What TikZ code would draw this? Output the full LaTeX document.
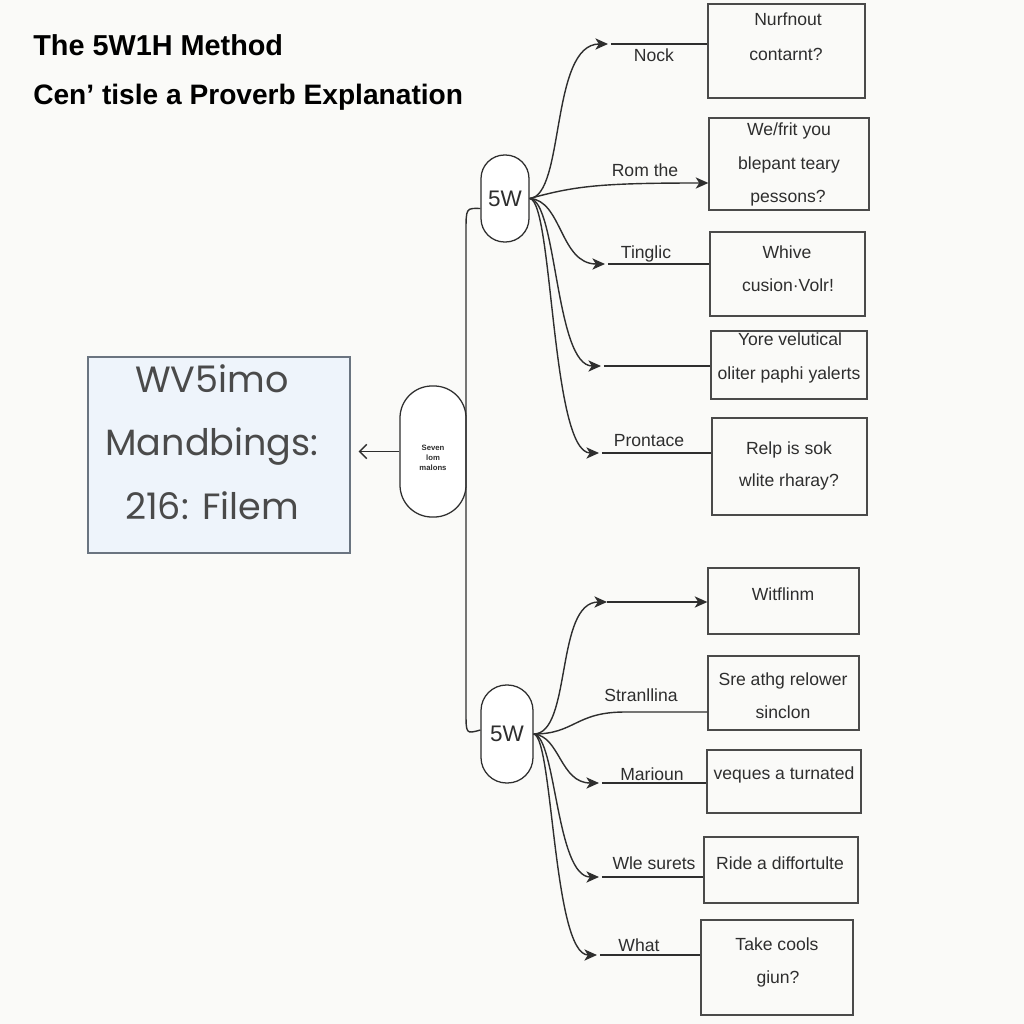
\documentclass[tikz,border=0pt]{standalone}
\usepackage{fontspec}
\setmainfont{Liberation Sans}
\newfontfamily\boxfont{Poppins}
\usetikzlibrary{arrows.meta}
\definecolor{bg}{HTML}{FAFAF8}
\definecolor{ink}{HTML}{2E2E2E}
\definecolor{edge}{HTML}{4A4A4A}
\definecolor{mainfill}{HTML}{EEF4FB}
\definecolor{mainedge}{HTML}{6A7480}
\definecolor{maintext}{HTML}{4A4A4A}
\begin{document}
\begin{tikzpicture}[x=0.025cm,y=-0.025cm,
  ansbox/.style={draw=edge, line width=0.9pt, rectangle, inner sep=0pt},
  txt/.style={text=ink, font=\fontsize{12.5}{15}\selectfont, inner sep=0pt, text height=9pt, text depth=2.5pt},
  wpill/.style={draw=ink, line width=0.9pt, fill=white, inner sep=0pt, font=\fontsize{16}{18}\selectfont, text=ink},
  conn/.style={draw=ink, line width=1pt},
  arr/.style={conn, -{Stealth[length=9pt,width=8pt,inset=2.5pt]}},
  titletxt/.style={anchor=west, inner sep=0pt, font=\bfseries\fontsize{20.5}{24}\selectfont, text=black},
  bigtxt/.style={inner sep=0pt, font=\boxfont\fontsize{26}{32}\selectfont, text=maintext, text height=20pt, text depth=6pt},
]
% background and bounding box
\fill[bg] (0,0) rectangle (1024,1024);
\useasboundingbox (0,0) rectangle (1024,1024);

% titles
\node[titletxt] (title1) at (33,45) {The 5W1H Method};
\node[titletxt, font=\bfseries\fontsize{20}{24}\selectfont] (title2) at (33,97) {Cen’ tisle a Proverb Explanation};

% main box
\node[draw=mainedge, fill=mainfill, line width=1pt, minimum width=6.55cm, minimum height=4.9cm, inner sep=0pt] (main) at (219,455) {};
\node[bigtxt] (m1) at (212,383) {WV5imo};
\node[bigtxt] (m2) at (212,446) {Mandbings:};
\node[bigtxt] (m3) at (212,510) {216: Filem};

% centre pill
\node[draw=ink, line width=0.9pt, fill=white, rounded corners=0.8cm, minimum width=1.65cm, minimum height=3.275cm, inner sep=0pt] (hub) at (433,451.5) {};
\node[inner sep=0pt, align=center, font=\bfseries\fontsize{5.5}{7}\selectfont, text=ink] (hubtxt) at (433,458) {Seven\\lom\\malons};
\draw[conn, -{Straight Barb[length=5pt,width=10pt]}, shorten >=0.2cm] (hub.west) -- (hub.west -| main.east);

% 5W pills
\node[wpill, rounded corners=0.59cm, minimum width=1.2cm, minimum height=2.175cm] (wa) at (505,198.5) {5W};
\node[wpill, rounded corners=0.64cm, minimum width=1.3cm, minimum height=2.45cm] (wb) at (507,734) {5W};

% vertical link
\draw[conn] ([yshift=-0.25cm]wa.west) .. controls (466,208) .. (466,232) -- (466,712) .. controls (466,734) .. ([yshift=0.1cm]wb.west);

% answer boxes
\node[ansbox, minimum width=3.925cm, minimum height=2.35cm] (b1) at (786.5,51) {};
\node[ansbox, minimum width=4.0cm, minimum height=2.3cm] (b2) at (789,164) {};
\node[ansbox, minimum width=3.875cm, minimum height=2.1cm] (b3) at (787.5,274) {};
\node[ansbox, minimum width=3.9cm, minimum height=1.7cm] (b4) at (789,365) {};
\node[ansbox, minimum width=3.875cm, minimum height=2.425cm] (b5) at (789.5,466.5) {};
\node[ansbox, minimum width=3.775cm, minimum height=1.65cm] (b6) at (783.5,601) {};
\node[ansbox, minimum width=3.775cm, minimum height=1.85cm] (b7) at (783.5,693) {};
\node[ansbox, minimum width=3.85cm, minimum height=1.575cm] (b8) at (784,781.5) {};
\node[ansbox, minimum width=3.85cm, minimum height=1.65cm] (b9) at (781,870) {};
\node[ansbox, minimum width=3.8cm, minimum height=2.375cm] (b10) at (777,967.5) {};

% box texts
\node[txt] (t1a) at (788,21) {Nurfnout};
\node[txt] (t1b) at (786,56) {contarnt?};
\node[txt] (t2a) at (789,131) {We/frit you};
\node[txt] (t2b) at (789,165) {blepant teary};
\node[txt] (t2c) at (788,198) {pessons?};
\node[txt] (t3a) at (787,254) {Whive};
\node[txt] (t3b) at (788,287) {cusion·Volr!};
\node[txt] (t4a) at (790,341) {Yore velutical};
\node[txt] (t4b) at (789,375) {oliter paphi yalerts};
\node[txt] (t5a) at (789,450) {Relp is sok};
\node[txt] (t5b) at (789,482) {wlite rharay?};
\node[txt] (t6a) at (783,596) {Witflinm};
\node[txt] (t7a) at (783,681) {Sre athg relower};
\node[txt] (t7b) at (783,714) {sinclon};
\node[txt] (t8a) at (784,775) {veques a turnated};
\node[txt] (t9a) at (780,865) {Ride a diffortulte};
\node[txt] (t10a) at (777,946) {Take cools};
\node[txt] (t10b) at (778,979) {giun?};

% arrow tip coordinates
\coordinate (a1) at (608,44);
\coordinate (a3) at (605,264);
\coordinate (a4) at (601,366);
\coordinate (a5) at (599,453);
\coordinate (a6) at (607,602);
\coordinate (a8) at (599,783);
\coordinate (a9) at (599,877);
\coordinate (a10) at (597,955);

% top branches
\draw[arr] (wa.east) .. controls (565,196) and (550,44) .. (a1);
\draw[conn] ([xshift=2pt]a1) -- (a1 -| b1.west);
\node[txt] (l1) at (654,57) {Nock};

\draw[arr] (wa.east) .. controls (575,186) and (600,183) .. (b2.west |- 0,183);
\node[txt] (l2) at (645,172) {Rom the};

\draw[arr] (wa.east) .. controls (562,200) and (560,264) .. (a3);
\draw[conn] ([xshift=2pt]a3) -- (a3 -| b3.west);
\node[txt] (l3) at (646,254) {Tinglic};

\draw[arr] (wa.east) .. controls (557,200) and (555,366) .. (a4);
\draw[conn] ([xshift=2pt]a4) -- (a4 -| b4.west);

\draw[arr] (wa.east) .. controls (553,200) and (551,453) .. (a5);
\draw[conn] ([xshift=2pt]a5) -- (a5 -| b5.west);
\node[txt] (l5) at (649,442) {Prontace};

% bottom branches
\draw[arr] (wb.east) .. controls (572,734) and (555,602) .. (a6);
\draw[arr] (a6) -- (b6.west |- a6);

\draw[conn] (wb.east) .. controls (575,734) and (575,712) .. (625,712) -- (b7.west |- 0,712);
\node[txt] (l7) at (641,697) {Stranllina};

\draw[arr] (wb.east) .. controls (560,736) and (560,783) .. (a8);
\draw[conn] ([xshift=2pt]a8) -- (a8 -| b8.west);
\node[txt] (l8) at (652,776) {Marioun};

\draw[arr] (wb.east) .. controls (556,736) and (556,877) .. (a9);
\draw[conn] ([xshift=2pt]a9) -- (a9 -| b9.west);
\node[txt] (l9) at (654,865) {Wle surets};

\draw[arr] (wb.east) .. controls (553,736) and (553,955) .. (a10);
\draw[conn] ([xshift=2pt]a10) -- (a10 -| b10.west);
\node[txt] (l10) at (639,947) {What};
\end{tikzpicture}
\end{document}
